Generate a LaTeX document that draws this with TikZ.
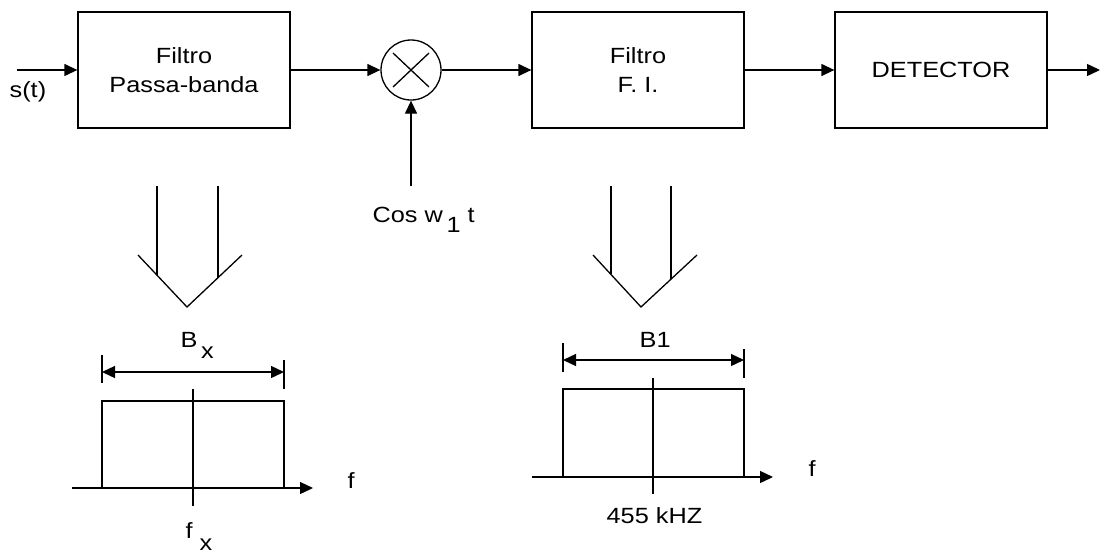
\documentclass[tikz,border=0pt]{standalone}
\usepackage{fontspec}
\setmainfont{Liberation Sans}[FakeStretch=1.15]
\usepackage{tikz}
\usetikzlibrary{arrows.meta,calc,positioning}

\begin{document}
\begin{tikzpicture}[x=0.5pt,y=-0.5pt,line width=0.65pt,
              font=\fontsize{11}{14.5}\selectfont,
              blockbox/.style={draw,minimum width=106pt,minimum height=58pt,align=center,inner sep=0},
              mixnode/.style={draw,circle,minimum size=30pt,inner sep=0},
              lbl/.style={anchor=base west,inner sep=0},
              sig/.style={-{Triangle[length=6.5pt,width=6pt]}},
              dimline/.style={{Triangle[length=6.5pt,width=6pt]}-{Triangle[length=6.5pt,width=6pt]}}]
              \useasboundingbox (0,0) rectangle (1101,552);
              % Blocks of the receiver
              \node[blockbox] (bpf) at (184,70) {Filtro\\Passa-banda};
              \node[mixnode] (mix) at (411,70) {};
              \node[blockbox] (fi) at (638,70) {Filtro\\F. I.};
              \node[blockbox] (det) at (941,70) {DETECTOR};
              \draw ($(mix.center)+(-9pt,-8.5pt)$) -- ($(mix.center)+(9pt,8.5pt)$);
              \draw ($(mix.center)+(-9pt,8.5pt)$) -- ($(mix.center)+(9pt,-8.5pt)$);
              \coordinate (in) at (17,70);
              \coordinate (out) at (1100,70);
              \coordinate (lo) at (411,186);
              \node[lbl] (st) at (9,97) {s(t)};
              \node[lbl] (cosl) at (372,222) {Cos w\,\raisebox{-5pt}{1} t};
              % Signal path
              \draw[sig] (in) -- (bpf);
              \draw[sig] (bpf) -- (mix);
              \draw[sig] (lo) -- (mix);
              \draw[sig] (mix) -- (fi);
              \draw[sig] (fi) -- (det);
              \draw[sig] (det) -- (out);
              % Hollow arrows down to the spectra
              \draw (138,255) -- (187,307) -- (242,255);
              \draw (157,186) -- (157,275);
              \draw (218,186) -- (218,278);
              \draw (593,255) -- (641,307) -- (697,255);
              \draw (611,186) -- (611,274);
              \draw (671,186) -- (671,279);
              % Spectrum of the band-pass filter
              \coordinate (ax1a) at (72,488);
              \coordinate (ax1b) at (313,488);
              \coordinate (bx1a) at (102,372);
              \coordinate (bx1b) at (284,372);
              \draw[sig] (ax1a) -- (ax1b);
              \draw (102,488) -- (102,401) -- (284,401) -- (284,488);
              \draw (193,389) -- (193,506);
              \draw (102,355) -- (102,383);
              \draw (284,360) -- (284,389);
              \draw[dimline] (bx1a) -- (bx1b);
              \node[lbl] (bxl) at (180,347) {B\,\raisebox{-5.5pt}{x}};
              \node[lbl] (fl1) at (347,488) {f};
              \node[lbl] (fxl) at (185,538) {f \raisebox{-6pt}{x}};
              % Spectrum of the F.I. filter
              \coordinate (ax2a) at (532,477);
              \coordinate (ax2b) at (773,477);
              \coordinate (bw2a) at (563,360);
              \coordinate (bw2b) at (744,360);
              \draw[sig] (ax2a) -- (ax2b);
              \draw (563,477) -- (563,389) -- (744,389) -- (744,477);
              \draw (653,378) -- (653,494);
              \draw (563,343) -- (563,372);
              \draw (744,349) -- (744,378);
              \draw[dimline] (bw2a) -- (bw2b);
              \node[lbl] (b1l) at (639,347) {B1};
              \node[lbl] (fl2) at (808,476) {f};
              \node[lbl] (fil) at (606,523) {455 kHZ};
            \end{tikzpicture}
\end{document}
